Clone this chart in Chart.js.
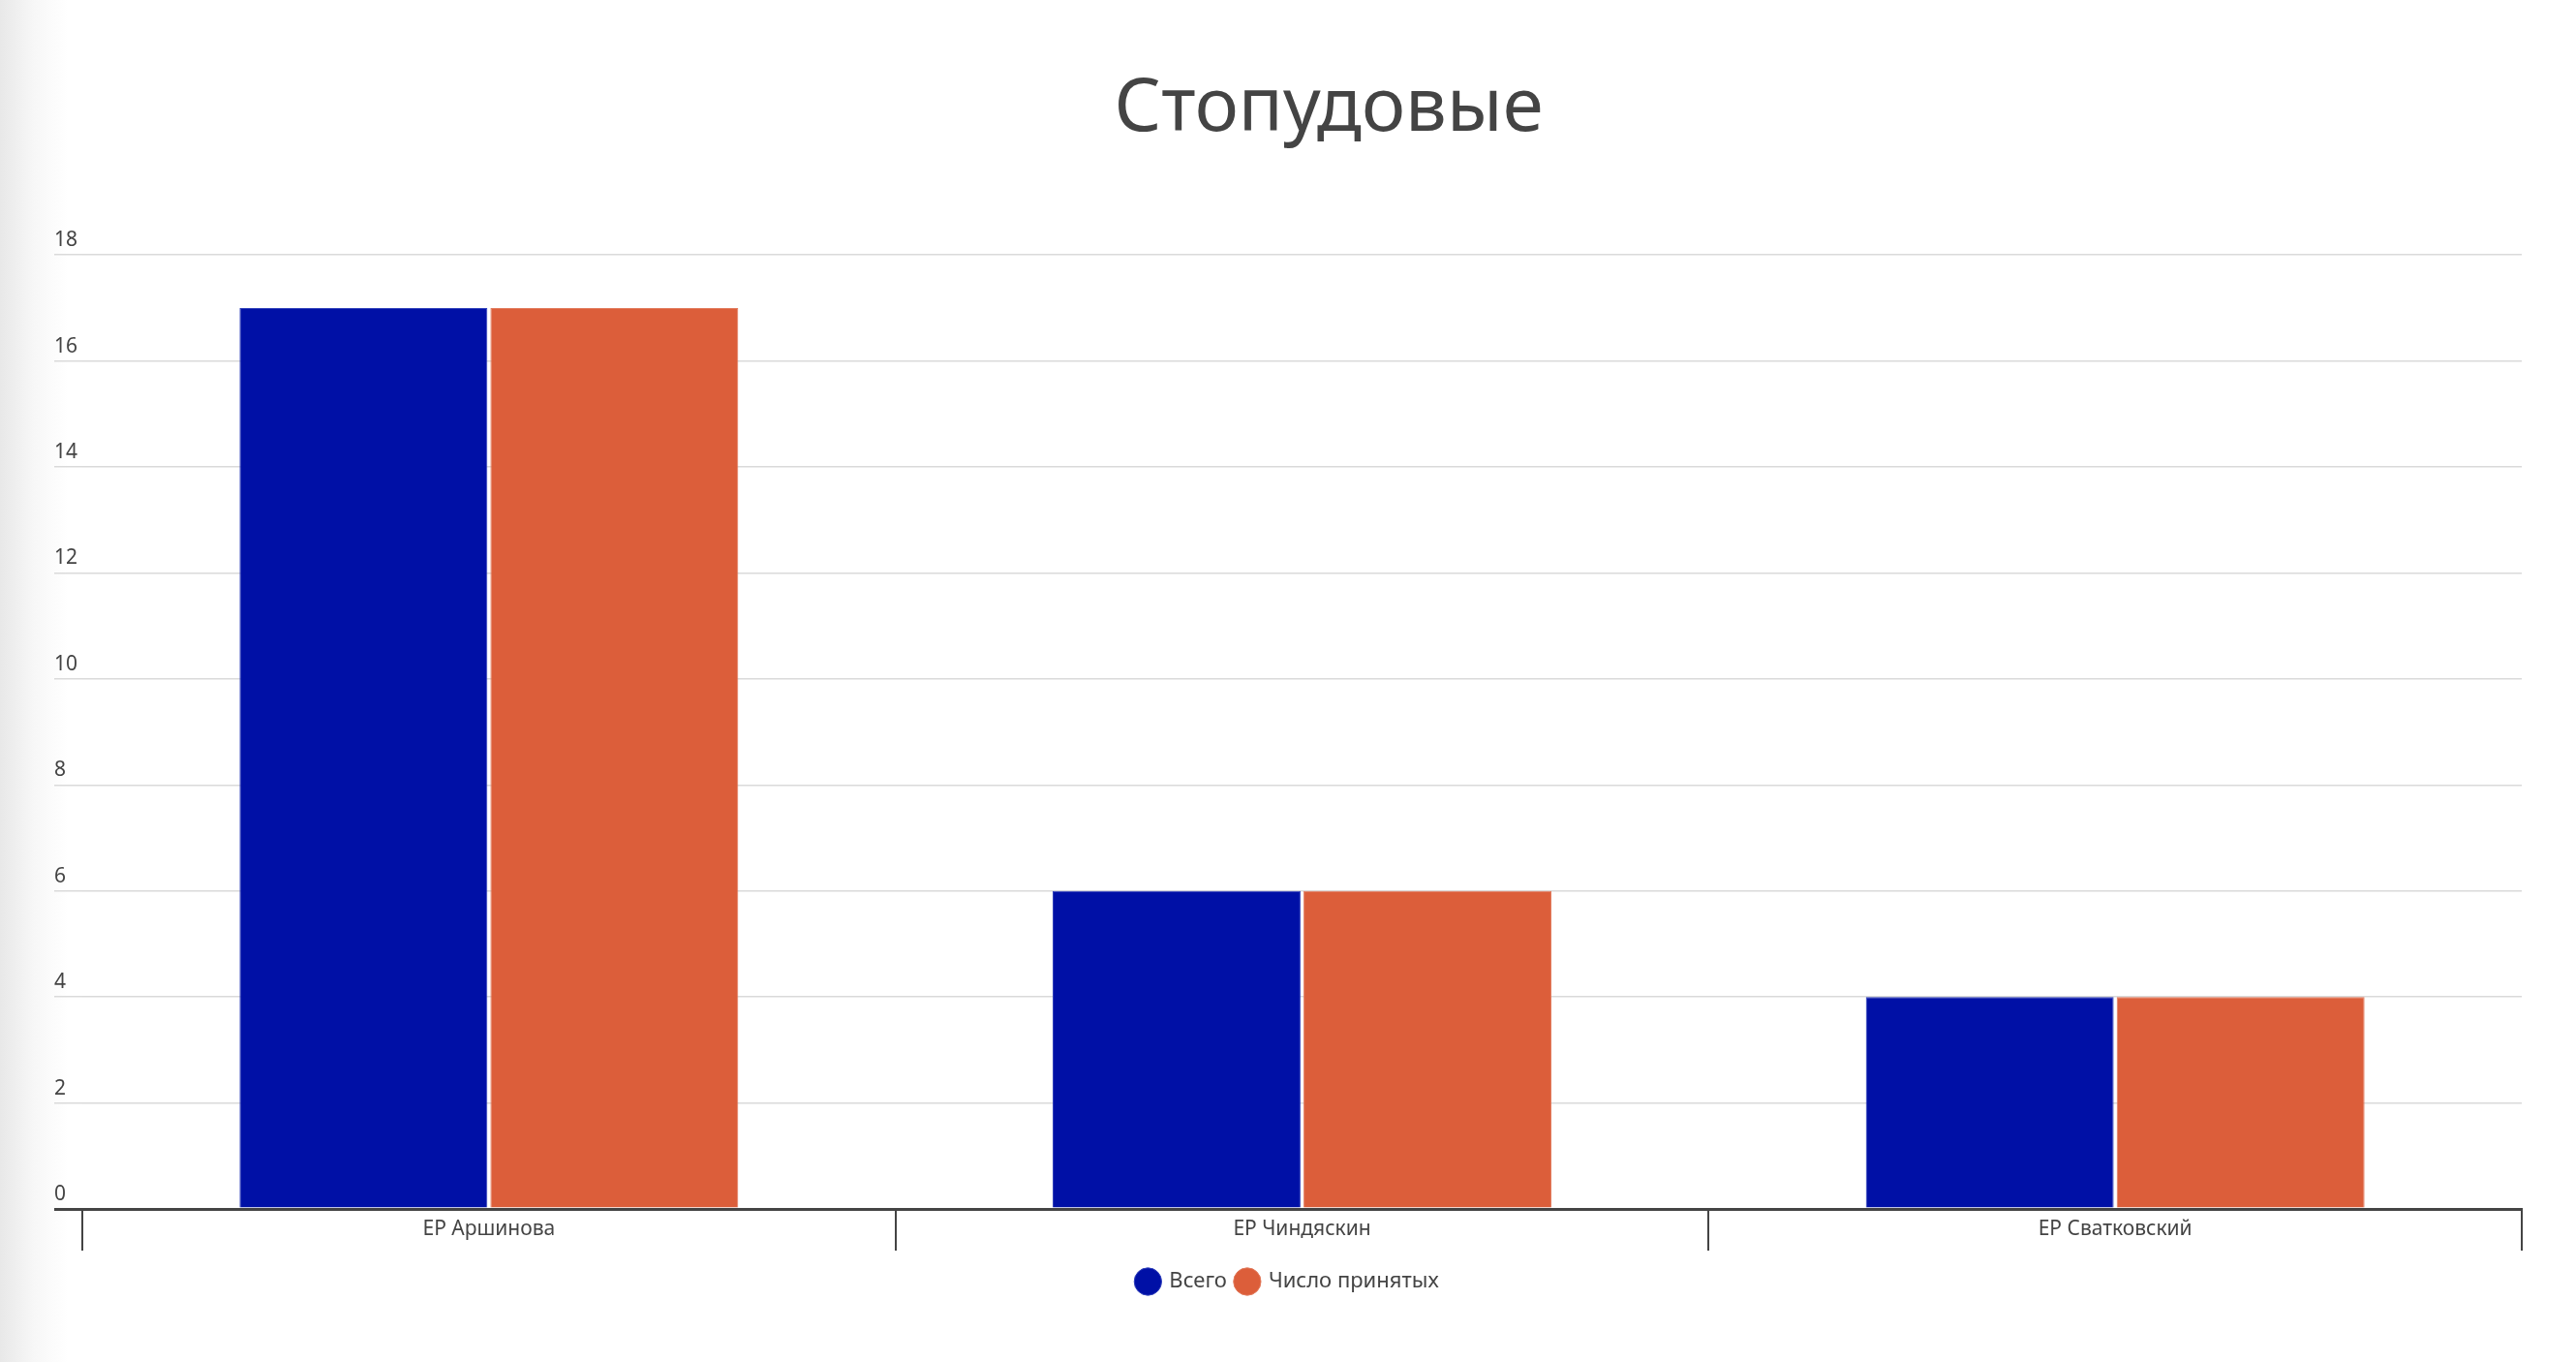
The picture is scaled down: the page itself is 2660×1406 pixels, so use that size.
<!DOCTYPE html>
<html>
<head>
<meta charset="utf-8">
<title>Стопудовые</title>
<script src="https://cdn.jsdelivr.net/npm/chart.js@4.4.1/dist/chart.umd.min.js"></script>
<style>
  html, body { margin: 0; padding: 0; }
  body { background: linear-gradient(to right, #e8e8e8 0px, #f7f7f7 35px, #ffffff 70px); }
  #wrap { position: relative; width: 2660px; height: 1406px; }
</style>
</head>
<body>
<div id="wrap"><canvas id="barChart"></canvas></div>
<script>
// data
const chartTitle = "Стопудовые";
const categories = ["ЕР Аршинова", "ЕР Чиндяскин", "ЕР Сватковский"];
const totalLabel = "Всего";
const totalValues = [17, 6, 4];
const acceptedLabel = "Число принятых";
const acceptedValues = [17, 6, 4];
const yMax = 18;
const yStep = 2;

const fontFamily = "'Noto Sans', 'Open Sans', sans-serif";
const textColor = "#444";

var ctx = document.getElementById("barChart").getContext("2d");

var chartData = {
  labels: categories,
  datasets: [
    {
      label: totalLabel,
      data: totalValues,
      backgroundColor: "#0010a6",
      borderColor: "#3040bb",
      borderWidth: 1,
      categoryPercentage: 0.617,
      barPercentage: 0.988,
    },
    {
      label: acceptedLabel,
      data: acceptedValues,
      backgroundColor: "#dc5e3a",
      borderColor: "#e27a5c",
      borderWidth: 1,
      categoryPercentage: 0.617,
      barPercentage: 0.988,
    },
  ],
};

// the title in the original sits a bit right of the centre
var shiftTitle = {
  id: "shiftTitle",
  afterLayout: function (chart) {
    if (chart.titleBlock) {
      chart.titleBlock.left += 42;
      chart.titleBlock.right += 42;
    }
  },
};

var chartOptions = {
  responsive: true,
  maintainAspectRatio: false,
  animation: false,
  layout: {
    padding: { left: 56, right: 56, top: 0, bottom: 62 },
  },
  scales: {
    x: {
      offset: true,
      border: { display: true, color: textColor, width: 3, z: 1 },
      grid: {
        offset: true,
        drawOnChartArea: false,
        drawTicks: true,
        tickLength: 43,
        color: textColor,
        lineWidth: 2,
      },
      ticks: {
        color: textColor,
        padding: -35,
        font: { family: fontFamily, size: 21 },
      },
      afterFit: function (scale) {
        scale.height = 54;
      },
    },
    y: {
      min: 0,
      max: yMax,
      border: { display: false },
      afterFit: function (scale) {
        scale.width = 29;
      },
      grid: {
        tickLength: 29,
        color: function (c) {
          return c.tick && c.tick.value === 0 ? textColor : "#dadada";
        },
        lineWidth: function (c) {
          return c.tick && c.tick.value === 0 ? 3 : 1.5;
        },
      },
      ticks: {
        stepSize: yStep,
        crossAlign: "far",
        labelOffset: -15,
        color: textColor,
        font: { family: fontFamily, size: 21 },
      },
    },
  },
  plugins: {
    tooltip: { enabled: false },
    title: {
      display: true,
      text: chartTitle,
      color: textColor,
      padding: { top: 68, bottom: 104 },
      font: { family: fontFamily, size: 76, weight: "normal" },
    },
    legend: {
      position: "bottom",
      labels: {
        usePointStyle: true,
        pointStyle: "circle",
        boxWidth: 48,
        boxHeight: 20,
        padding: 10,
        color: textColor,
        font: { family: fontFamily, size: 22 },
      },
    },
  },
};

var myChart = new Chart(ctx, {
  type: "bar",
  data: chartData,
  options: chartOptions,
  plugins: [shiftTitle],
});
</script>
</body>
</html>
